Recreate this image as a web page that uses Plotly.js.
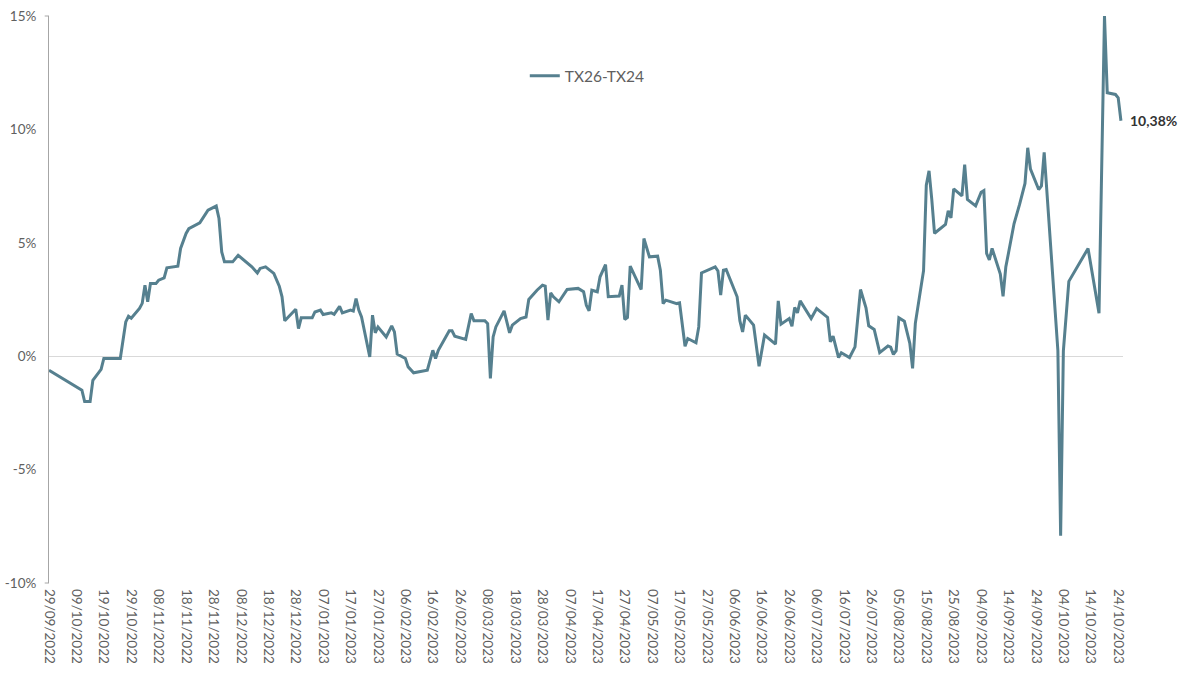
<!DOCTYPE html>
<html>
<head>
<meta charset="utf-8">
<script src="https://cdn.plot.ly/plotly-3.0.1.min.js"></script>
<style>html,body{margin:0;padding:0;background:#fff;}#chart{width:1192px;height:673px;}</style>
</head>
<body>
<div id="chart"></div>
<script>
const seriesName = 'TX26-TX24';
const dates = [
'2022-09-29','2022-10-11','2022-10-12','2022-10-14','2022-10-15','2022-10-18','2022-10-19','2022-10-25','2022-10-27','2022-10-28',
'2022-10-29','2022-11-01','2022-11-02','2022-11-03','2022-11-04','2022-11-05','2022-11-07','2022-11-08','2022-11-10','2022-11-11',
'2022-11-15','2022-11-16','2022-11-18','2022-11-19','2022-11-23','2022-11-26','2022-11-29','2022-11-30','2022-12-01','2022-12-02',
'2022-12-05','2022-12-07','2022-12-12','2022-12-14','2022-12-15','2022-12-17','2022-12-20','2022-12-22','2022-12-23','2022-12-24',
'2022-12-28','2022-12-29','2022-12-30','2023-01-03','2023-01-04','2023-01-06','2023-01-07','2023-01-10','2023-01-11','2023-01-13',
'2023-01-14','2023-01-17','2023-01-18','2023-01-19','2023-01-20','2023-01-21','2023-01-24','2023-01-25','2023-01-26','2023-01-27',
'2023-01-30','2023-02-01','2023-02-02','2023-02-03','2023-02-06','2023-02-07','2023-02-09','2023-02-14','2023-02-16','2023-02-17',
'2023-02-18','2023-02-22','2023-02-23','2023-02-24','2023-02-28','2023-03-02','2023-03-03','2023-03-07','2023-03-08','2023-03-09',
'2023-03-10','2023-03-11','2023-03-14','2023-03-16','2023-03-17','2023-03-20','2023-03-22','2023-03-23','2023-03-26','2023-03-28',
'2023-03-29','2023-03-30','2023-03-31','2023-04-01','2023-04-03','2023-04-05','2023-04-06','2023-04-10','2023-04-12','2023-04-13',
'2023-04-14','2023-04-15','2023-04-17','2023-04-18','2023-04-20','2023-04-21','2023-04-25','2023-04-26','2023-04-27','2023-04-28',
'2023-04-29','2023-05-03','2023-05-04','2023-05-06','2023-05-09','2023-05-10','2023-05-11','2023-05-12','2023-05-16','2023-05-17',
'2023-05-19','2023-05-20','2023-05-23','2023-05-24','2023-05-25','2023-05-30','2023-05-31','2023-06-01','2023-06-02','2023-06-03',
'2023-06-05','2023-06-07','2023-06-08','2023-06-09','2023-06-10','2023-06-13','2023-06-15','2023-06-17','2023-06-21','2023-06-22',
'2023-06-23','2023-06-26','2023-06-27','2023-06-28','2023-06-29','2023-06-30','2023-07-04','2023-07-06','2023-07-10','2023-07-11',
'2023-07-12','2023-07-14','2023-07-15','2023-07-18','2023-07-20','2023-07-22','2023-07-24','2023-07-25','2023-07-27','2023-07-29',
'2023-08-01','2023-08-02','2023-08-03','2023-08-04','2023-08-05','2023-08-07','2023-08-09','2023-08-10','2023-08-11','2023-08-14',
'2023-08-15','2023-08-16','2023-08-17','2023-08-18','2023-08-22','2023-08-23','2023-08-24','2023-08-25','2023-08-28','2023-08-29',
'2023-08-30','2023-09-02','2023-09-04','2023-09-05','2023-09-06','2023-09-07','2023-09-08','2023-09-11','2023-09-12','2023-09-13',
'2023-09-14','2023-09-16','2023-09-18','2023-09-20','2023-09-21','2023-09-22','2023-09-25','2023-09-26','2023-09-27','2023-09-29',
'2023-10-02','2023-10-03','2023-10-04','2023-10-06','2023-10-13','2023-10-17','2023-10-19','2023-10-20','2023-10-23','2023-10-24',
'2023-10-25'
];
const values = [
-0.62,-1.50,-2.00,-2.00,-1.06,-0.58,-0.10,-0.10,1.51,1.76,
1.67,2.11,2.33,3.13,2.40,3.20,3.20,3.35,3.45,3.90,
3.97,4.75,5.41,5.62,5.88,6.44,6.62,6.07,4.60,4.16,
4.16,4.45,3.94,3.67,3.87,3.94,3.65,3.09,2.62,1.56,
2.07,1.22,1.69,1.69,1.95,2.03,1.84,1.91,1.85,2.20,
1.91,2.03,1.99,2.54,2.03,1.73,-0.03,1.81,1.03,1.29,
0.85,1.34,1.07,0.09,-0.10,-0.47,-0.73,-0.62,0.26,-0.10,
0.26,1.12,1.12,0.88,0.74,1.88,1.56,1.56,1.44,-0.98,
0.85,1.29,2.00,1.03,1.37,1.66,1.73,2.50,2.91,3.13,
3.09,1.59,2.79,2.62,2.40,2.79,2.94,2.99,2.84,2.25,
2.00,2.91,2.84,3.50,4.04,2.62,2.65,3.13,1.62,1.71,
3.97,2.94,5.19,4.38,4.41,3.79,2.32,2.47,2.32,2.35,
0.44,0.78,0.59,1.29,3.67,3.94,3.76,2.69,3.79,3.82,
3.23,2.62,1.56,1.07,1.81,1.37,-0.44,0.93,0.53,2.44,
1.41,1.66,1.32,2.15,1.91,2.44,1.66,2.10,1.71,0.63,
0.88,-0.06,0.15,-0.06,0.41,2.94,2.13,1.34,1.18,0.16,
0.45,0.40,0.08,0.24,1.69,1.54,0.56,-0.54,1.45,3.77,
7.54,8.17,6.91,5.42,5.81,6.41,6.10,7.38,7.07,8.45,
6.91,6.63,7.23,7.30,4.53,4.25,4.75,3.62,2.64,3.93,
4.56,5.84,6.68,7.62,9.19,8.25,7.35,7.51,8.99,5.50,
0.24,-7.92,0.24,3.30,4.75,1.89,15.00,11.62,11.54,11.39,
10.38
];
const yTickVals = [-10, -5, 0, 5, 10, 15];
const yTickText = ['-10%', '-5%', '0%', '5%', '10%', '15%'];
const lastLabel = '10,38%';

const lineColor = '#56808F';
const textColor = '#606060';
const axisColor = '#a6a6a6';

const trace = {
  x: dates, y: values, type: 'scatter', mode: 'lines', name: seriesName,
  line: {color: lineColor, width: 3},
  hoverinfo: 'x+y'
};

const layout = {
  width: 1192, height: 673,
  margin: {l: 49, r: 69, t: 16, b: 90},
  paper_bgcolor: '#fff', plot_bgcolor: '#fff',
  font: {family: 'Lato, "Open Sans", sans-serif', color: textColor, size: 13},
  showlegend: true,
  legend: {
    x: 0.443, y: 0.894, xanchor: 'left', yanchor: 'middle',
    bgcolor: 'rgba(0,0,0,0)', font: {size: 15.5, color: textColor},
    itemwidth: 30
  },
  xaxis: {
    type: 'date',
    range: ['2022-09-29', '2023-10-25 18:00'],
    tick0: '2022-09-29', dtick: 864000000,
    tickformat: '%d/%m/%Y', tickangle: 90,
    tickfont: {size: 13.5, color: textColor},
    showgrid: false, zeroline: false, showline: false,
    ticks: '', ticklabelstandoff: 5
  },
  yaxis: {
    range: [-10, 15],
    tickvals: yTickVals, ticktext: yTickText,
    tickfont: {size: 13.5, color: textColor},
    showgrid: false,
    zeroline: true, zerolinecolor: '#d9d9d9', zerolinewidth: 1,
    showline: true, linecolor: axisColor, linewidth: 1,
    ticks: '', ticklabelstandoff: 9
  },
  shapes: [
    {type: 'line', xref: 'paper', yref: 'paper', x0: -0.004, x1: 0, y0: 1, y1: 1, line: {color: axisColor, width: 1}},
    {type: 'line', xref: 'paper', yref: 'paper', x0: -0.004, x1: 0, y0: 0, y1: 0, line: {color: axisColor, width: 1}}
  ],
  annotations: [{
    x: dates[dates.length - 1], y: values[values.length - 1],
    xref: 'x', yref: 'y', text: '<b>' + lastLabel + '</b>',
    showarrow: false, xanchor: 'left', yanchor: 'middle', xshift: 7,
    font: {size: 14, color: '#333333'}
  }]
};

Plotly.newPlot('chart', [trace], layout, {displayModeBar: false, staticPlot: true});
</script>
</body>
</html>
